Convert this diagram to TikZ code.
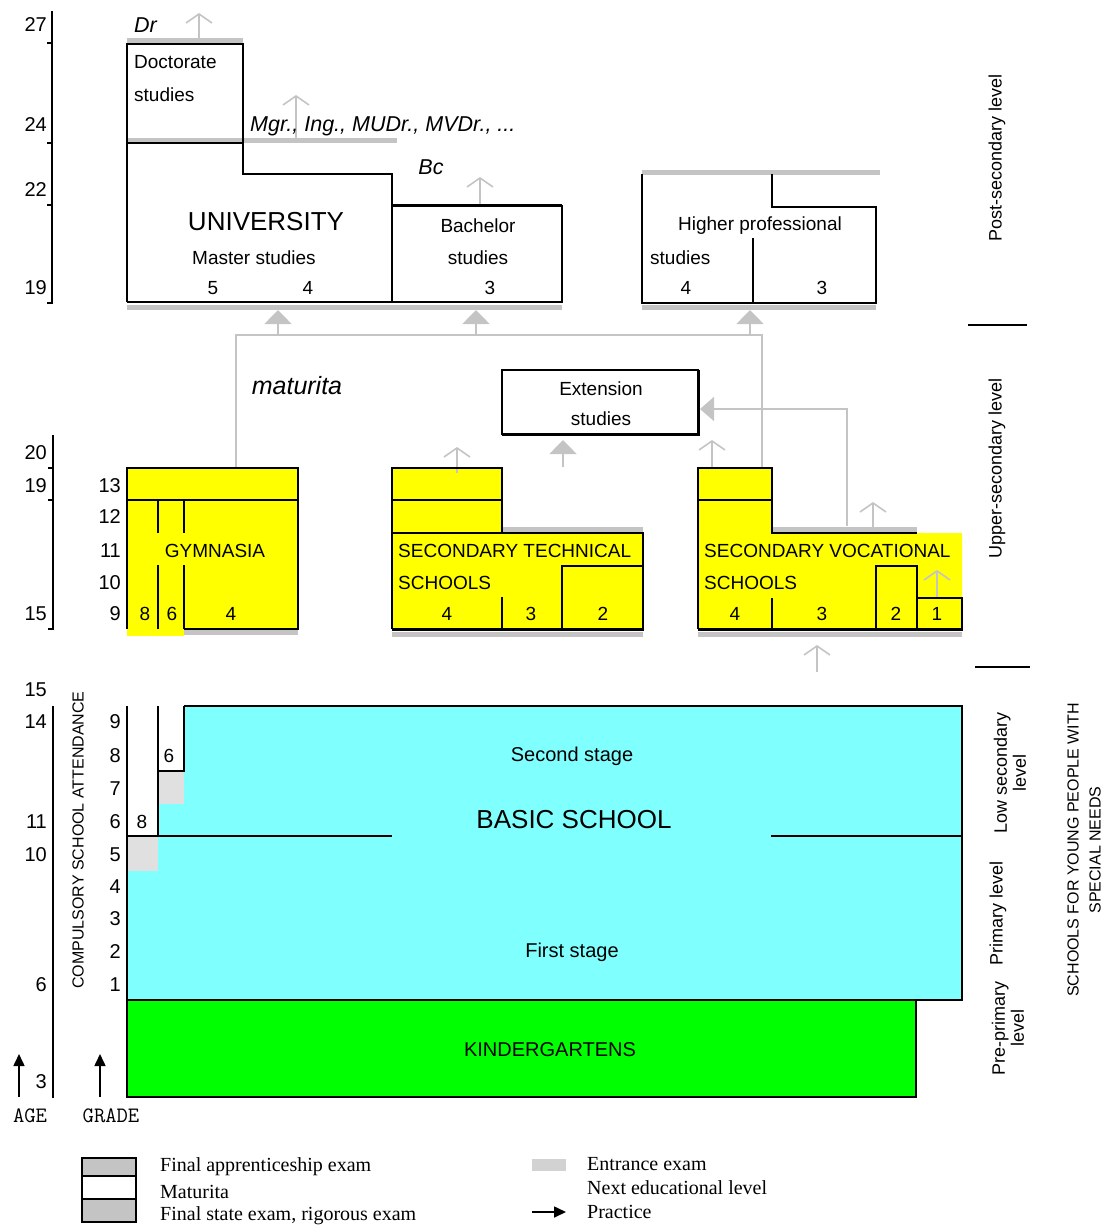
\documentclass[tikz,border=0pt]{standalone}
\usepackage{fontspec}
\setmainfont{Liberation Sans}
\newfontfamily\legfont{Liberation Serif}
\usetikzlibrary{arrows.meta}
\definecolor{yel}{HTML}{FFFF00}
\definecolor{cyn}{HTML}{80FFFF}
\definecolor{grn}{HTML}{00FF00}
\definecolor{barg}{HTML}{C4C4C4}
\definecolor{exg}{HTML}{E0E0E0}
\definecolor{entg}{HTML}{D2D2D2}
\begin{document}
\begin{tikzpicture}[x=1pt,y=-1pt,
  bl/.style={draw=black,line width=1.8pt},
  thk/.style={draw=black,line width=3pt},
  gbar/.style={draw=barg,line width=5pt},
  gline/.style={draw=barg,line width=1.6pt},
  opena/.style={draw=barg,line width=1.6pt,-{Straight Barb[length=9pt,width=26pt,line width=1.6pt]}},
  filla/.style={draw=barg,line width=1.6pt,-{Triangle[length=14pt,width=27pt]}},
  blka/.style={draw=black,line width=1.6pt,-{Triangle[length=12pt,width=11pt]}},
  t/.style={font=\fontsize{19}{22}\selectfont, inner sep=0pt},
  tn/.style={font=\fontsize{20}{22}\selectfont, inner sep=0pt},
  ti/.style={font=\fontsize{21.5}{22}\selectfont\itshape, inner sep=0pt},
  tbig/.style={font=\fontsize{26}{28}\selectfont, inner sep=0pt},
  tr/.style={font=\fontsize{18}{19}\selectfont, inner sep=0pt, rotate=90, align=center},
  tcap/.style={font=\fontsize{16}{22}\selectfont, inner sep=0pt, rotate=90, align=center},
  tleg/.style={font=\legfont\fontsize{20}{22}\selectfont, inner sep=0pt, anchor=west},
  tage/.style={font=\ttfamily\fontsize{22}{22}\selectfont, inner sep=0pt}
]
\useasboundingbox (0,0) rectangle (1104,1226);

% ---------------- fills ----------------
\fill[yel] (127,468) rectangle (298,629);
\fill[yel] (127,629) rectangle (184,636);
\fill[yel] (392,468) rectangle (502,533);
\fill[yel] (392,533) rectangle (643,629);
\fill[yel] (698,468) -- (772,468) -- (772,533) -- (962,533) -- (962,629) -- (698,629) -- cycle;
\fill[cyn] (184,707) -- (962,707) -- (962,1000) -- (127,1000) -- (127,836) -- (158,836) -- (158,771) -- (184,771) -- cycle;
\fill[exg] (158,771) rectangle (184,804);
\fill[exg] (127,836) rectangle (158,871);
\fill[grn] (127,1000) rectangle (916,1097);

% ---------------- gray bars ----------------
\draw[gbar] (127,40) -- (243,40);
\draw[gbar] (127,140.5) -- (397,140.5);
\draw[gbar] (642,172) -- (880,172);
\draw[gbar] (127,307) -- (562,307);
\draw[gbar] (642,307) -- (876,307);
\draw[gbar] (502,529) -- (643,529);
\draw[gbar] (772,529) -- (917,529);
\draw[gbar] (184,632.5) -- (298,632.5);
\draw[gbar] (392,634) -- (643,634);
\draw[gbar] (698,634) -- (962,634);

% ---------------- gray connectors ----------------
\coordinate (gymtop) at (236,468);
\coordinate (voctop) at (762,468);
\draw[gline] (gymtop) -- (236,335) -- (762,335) -- (voctop);
\draw[filla] (278,335) -- (278,310);
\draw[filla] (476,335) -- (476,310);
\draw[filla] (750,335) -- (750,310);
\draw[filla] (563,467) -- (563,440);
\draw[gline,-{Triangle[length=14pt,width=24pt]}] (847,526) -- (847,409) -- (700,409);
\draw[opena] (199,40) -- (199,13);
\draw[opena] (296,140) -- (296,95);
\draw[opena] (480,205) -- (480,177);
\draw[opena] (457,473) -- (457,447);
\draw[opena] (712,468) -- (712,440);
\draw[opena] (873,527) -- (873,502);
\draw[opena] (937,598) -- (937,570);
\draw[opena] (817,672) -- (817,645);

% ---------------- university ----------------
\draw[bl] (127,302) -- (127,44) -- (243,44) -- (243,174) -- (392,174) -- (392,302);
\draw[bl] (127,143) -- (243,143);
\draw[bl] (127,302) -- (562,302) -- (562,205);
\draw[thk] (392,205) -- (562,205);
% higher professional
\draw[bl] (642,174) -- (642,303) -- (876,303) -- (876,207) -- (772,207) -- (772,174);
\draw[bl] (753,238) -- (753,303);
% extension
\draw[bl] (502,370) rectangle (698,434);
\draw[line width=3pt] (502,434.5) -- (698.5,434.5) -- (698.5,370);

% ---------------- gymnasia ----------------
\draw[bl] (127,629) -- (127,468) -- (298,468) -- (298,629) -- (184,629);
\draw[bl] (127,500) -- (298,500);
\draw[bl] (158,500) -- (158,533);
\draw[bl] (158,565) -- (158,629);
\draw[bl] (184,500) -- (184,533);
\draw[bl] (184,565) -- (184,629);

% ---------------- technical ----------------
\draw[bl] (392,629) -- (392,468) -- (502,468) -- (502,533);
\draw[bl] (392,500) -- (502,500);
\draw[bl] (392,533) -- (643,533) -- (643,629);
\draw[thk] (392,629) -- (643.5,629);
\draw[bl] (562,629) -- (562,566) -- (643,566);
\draw[bl] (502,597) -- (502,629);

% ---------------- vocational ----------------
\draw[bl] (698,629) -- (698,468) -- (772,468) -- (772,533) -- (917,533);
\draw[bl] (698,500) -- (772,500);
\draw[thk] (698,629) -- (962.5,629);
\draw[bl] (772,598) -- (772,629);
\draw[bl] (876,629) -- (876,566) -- (917,566) -- (917,629);
\draw[bl] (917,598) -- (962,598) -- (962,629);

% ---------------- basic school ----------------
\draw[bl] (184,706) -- (962,706) -- (962,1000) -- (127,1000) -- (127,706);
\draw[bl] (158,706) -- (158,836);
\draw[bl] (184,706) -- (184,771) -- (158,771);
\draw[bl] (127,836) -- (392,836);
\draw[bl] (771,836) -- (962,836);
\draw[bl] (127,1000) rectangle (916,1097);

% ---------------- axes ----------------
\draw[bl] (52,11) -- (52,303) -- (47,303);
\draw[bl] (47,43) -- (52,43);
\draw[bl] (47,143) -- (52,143);
\draw[bl] (47,205) -- (52,205);
\draw[bl] (53,435) -- (53,629) -- (48,629);
\draw[bl] (48,468) -- (53,468);
\draw[bl] (48,500) -- (53,500);
\draw[bl] (53,706) -- (53,1098);
\draw[bl] (968,325) -- (1027,325);
\draw[bl] (975,667) -- (1030,667);
\draw[blka] (19,1097) -- (19,1054);
\draw[blka] (100,1097) -- (100,1054);

% ---------------- texts ----------------
\node[ti,anchor=west] (dr) at (134,25) {Dr};
\node[t,anchor=west] (doc1) at (134,62) {Doctorate};
\node[t,anchor=west] (doc2) at (134,95) {studies};
\node[ti,anchor=west] (mgr) at (250,126) {Mgr., Ing., MUDr., MVDr., ...};
\node[ti] (bc) at (431,167) {Bc};
\node[tbig] (univ) at (266,222) {UNIVERSITY};
\node[t] (master) at (254,258) {Master studies};
\node[t] (u5) at (213,288) {5};
\node[t] (u4) at (308,288) {4};
\node[t] (bach1) at (478,226) {Bachelor};
\node[t] (bach2) at (478,258) {studies};
\node[t] (b3) at (490,288) {3};
\node[t] (hp1) at (760,226) {Higher professional};
\node[t,anchor=west] (hp2) at (650,258) {studies};
\node[t] (hp4) at (686,288) {4};
\node[t] (hp3) at (822,288) {3};
\node[t] (ext1) at (601,389) {Extension};
\node[t] (ext2) at (601,419) {studies};
\node[font=\fontsize{25}{27}\selectfont\itshape, inner sep=0pt] (mat) at (297,386) {maturita};

\node[t] (gym) at (215,551) {GYMNASIA};
\node[t] (g8) at (145,614) {8};
\node[t] (g6) at (172,614) {6};
\node[t] (g4) at (231,614) {4};
\node[t,anchor=west] (st1) at (398,551) {SECONDARY TECHNICAL};
\node[t,anchor=west] (st2) at (398,583) {SCHOOLS};
\node[t] (t4) at (447,614) {4};
\node[t] (t3) at (531,614) {3};
\node[t] (t2) at (603,614) {2};
\node[t,anchor=west] (sv1) at (704,551) {SECONDARY VOCATIONAL};
\node[t,anchor=west] (sv2) at (704,583) {SCHOOLS};
\node[t] (v4) at (735,614) {4};
\node[t] (v3) at (822,614) {3};
\node[t] (v2) at (896,614) {2};
\node[t] (v1) at (937,614) {1};

\node[tn] (sec) at (572,756) {Second stage};
\node[tbig] (basic) at (574,820) {BASIC SCHOOL};
\node[tn] (first) at (572,952) {First stage};
\node[t] (b6) at (169,756) {6};
\node[t] (b8) at (142,822) {8};
\node[tn] (kin) at (550,1050) {KINDERGARTENS};

% age labels
\node[tn,anchor=east] (a27) at (47,25) {27};
\node[tn,anchor=east] (a24) at (47,125) {24};
\node[tn,anchor=east] (a22) at (47,190) {22};
\node[tn,anchor=east] (a19) at (47,288) {19};
\node[tn,anchor=east] (a20) at (47,453) {20};
\node[tn,anchor=east] (a19b) at (47,486) {19};
\node[tn,anchor=east] (a15) at (47,614) {15};
\node[tn,anchor=east] (a15b) at (47,690) {15};
\node[tn,anchor=east] (a14) at (47,722) {14};
\node[tn,anchor=east] (a11) at (47,822) {11};
\node[tn,anchor=east] (a10) at (47,855) {10};
\node[tn,anchor=east] (a6) at (47,985) {6};
\node[tn,anchor=east] (a3) at (47,1082) {3};
% grade labels
\node[tn,anchor=east] (g13) at (121,486) {13};
\node[tn,anchor=east] (g12) at (121,517) {12};
\node[tn,anchor=east] (g11) at (121,551) {11};
\node[tn,anchor=east] (g10) at (121,583) {10};
\node[tn,anchor=east] (g9) at (121,614) {9};
\node[tn,anchor=east] (gr9) at (121,722) {9};
\node[tn,anchor=east] (gr8) at (121,756) {8};
\node[tn,anchor=east] (gr7) at (121,789) {7};
\node[tn,anchor=east] (gr6) at (121,822) {6};
\node[tn,anchor=east] (gr5) at (121,855) {5};
\node[tn,anchor=east] (gr4) at (121,887) {4};
\node[tn,anchor=east] (gr3) at (121,919) {3};
\node[tn,anchor=east] (gr2) at (121,952) {2};
\node[tn,anchor=east] (gr1) at (121,985) {1};

\node[tcap] (comp) at (78,840) {COMPULSORY SCHOOL ATTENDANCE};
\node[tage] (age) at (30,1116) {AGE};
\node[tage] (grade) at (111,1116) {GRADE};

% right labels
\node[tr] (post) at (997,158) {Post-secondary level};
\node[tr] (upper) at (997,468) {Upper-secondary level};
\node[tr] (low) at (1010,773) {Low secondary\\level};
\node[tr] (prim) at (998,913) {Primary level};
\node[tr] (pre) at (1008,1028) {Pre-primary\\level};
\node[tcap] (spec) at (1084,850) {SCHOOLS FOR YOUNG PEOPLE WITH\\SPECIAL NEEDS};

% legend
\filldraw[fill=barg,draw=black,line width=1.6pt] (82,1158) rectangle (136,1176);
\draw[black,line width=1.6pt] (82,1176) rectangle (136,1199);
\filldraw[fill=barg,draw=black,line width=1.6pt] (82,1199) rectangle (136,1222);
\fill[entg] (532,1159) rectangle (566,1171);
\draw[blka] (532,1212) -- (566,1212);
\node[tleg] (lg1) at (160,1167) {Final apprenticeship exam};
\node[tleg] (lg2) at (160,1192) {Maturita};
\node[tleg] (lg3) at (160,1216) {Final state exam, rigorous exam};
\node[tleg] (lg4) at (587,1164) {Entrance exam};
\node[tleg] (lg5) at (587,1188) {Next educational level};
\node[tleg] (lg6) at (587,1212) {Practice};
\end{tikzpicture}
\end{document}
